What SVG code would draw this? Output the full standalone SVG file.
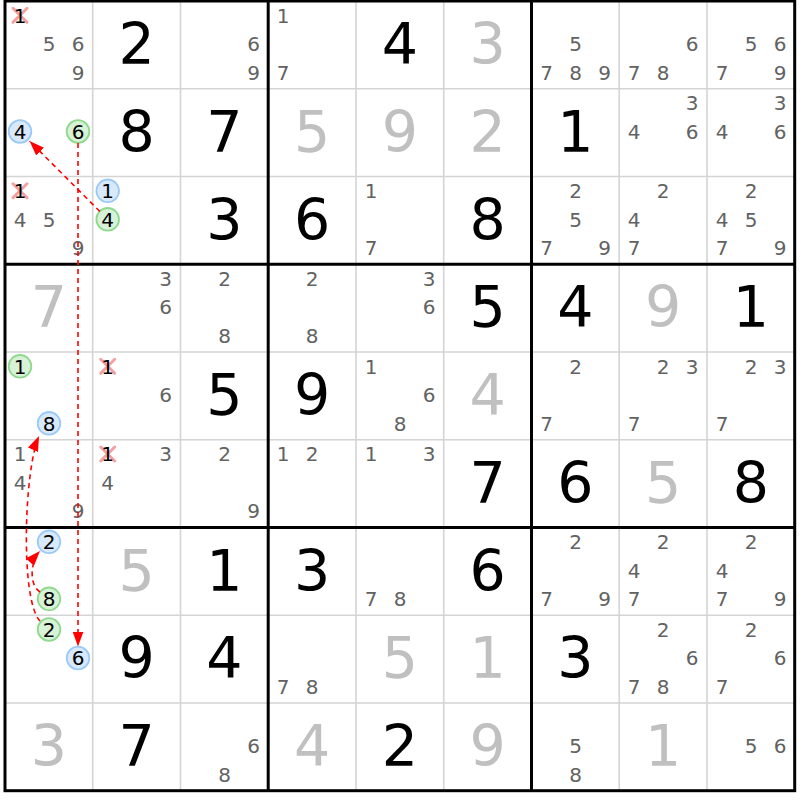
<svg xmlns="http://www.w3.org/2000/svg" width="800" height="800" viewBox="0 0 800 800">
<style>
.thin{stroke:#d4d4d4;stroke-width:1.6}
.thick{stroke:#000;stroke-width:3}
.b{font-family:"DejaVu Sans",sans-serif;font-size:57px;text-anchor:middle;fill:#000}
.gy{fill:#c0c0c0}
.c{font-family:"DejaVu Sans",sans-serif;font-size:20px;text-anchor:middle;fill:#626262}
.k{fill:#000}
.x{stroke:#f4a0a0;stroke-width:3;stroke-linecap:round}
.cb{fill:#d8e9fc;stroke:#9ccaf5;stroke-width:1.8}
.cg{fill:#d8f2d8;stroke:#8fd98f;stroke-width:1.8}
.ln{fill:none;stroke:#f00;stroke-width:1.6;stroke-dasharray:5,4}
</style>
<defs>
<marker id="ah" markerUnits="userSpaceOnUse" markerWidth="16" markerHeight="11" refX="15" refY="5.5" orient="auto">
<path d="M0,0 L15,5.5 L0,11 z" fill="#f00"/>
</marker>
</defs>
<rect x="0" y="0" width="800" height="800" fill="#fff"/>
<g id="grid">
<path class="thin" d="M92.7,1V790.7M180.5,1V790.7M356,1V790.7M443.7,1V790.7M619.2,1V790.7M707,1V790.7M5,88.7H794.7M5,176.5H794.7M5,352H794.7M5,439.7H794.7M5,615.2H794.7M5,703H794.7"/>
<path class="thick" d="M268.2,1V790.7M531.5,1V790.7M5,264.2H794.7M5,527.5H794.7"/>
<rect class="thick" x="5" y="1" width="789.7" height="789.7" fill="none"/>
</g>
<g id="r1c1"><path class="x" d="M13,8.3L27,22.3M27,8.3L13,22.3"/><text class="c k" x="20" y="22.5">1</text><text class="c" x="49" y="51">5</text><text class="c" x="78" y="51">6</text><text class="c" x="78" y="79.5">9</text></g>
<g id="r1c2"><text class="b" x="136.7" y="64">2</text></g>
<g id="r1c3"><text class="c" x="253.5" y="51">6</text><text class="c" x="253.5" y="79.5">9</text></g>
<g id="r1c4"><text class="c" x="283.2" y="22.5">1</text><text class="c" x="283.2" y="79.5">7</text></g>
<g id="r1c5"><text class="b" x="400" y="64">4</text></g>
<g id="r1c6"><text class="b gy" x="487.7" y="64">3</text></g>
<g id="r1c7"><text class="c" x="575.5" y="51">5</text><text class="c" x="546.5" y="79.5">7</text><text class="c" x="575.5" y="79.5">8</text><text class="c" x="604.5" y="79.5">9</text></g>
<g id="r1c8"><text class="c" x="692.2" y="51">6</text><text class="c" x="634.2" y="79.5">7</text><text class="c" x="663.2" y="79.5">8</text></g>
<g id="r1c9"><text class="c" x="751" y="51">5</text><text class="c" x="780" y="51">6</text><text class="c" x="722" y="79.5">7</text><text class="c" x="780" y="79.5">9</text></g>

<g id="r2c1"><circle class="cb" cx="20" cy="131.5" r="11.3"/><text class="c k" x="20" y="138.7">4</text><circle class="cg" cx="78" cy="131.5" r="11.3"/><text class="c k" x="78" y="138.7">6</text></g>
<g id="r2c2"><text class="b" x="136.7" y="151.7">8</text></g>
<g id="r2c3"><text class="b" x="224.5" y="151.7">7</text></g>
<g id="r2c4"><text class="b gy" x="312.2" y="151.7">5</text></g>
<g id="r2c5"><text class="b gy" x="400" y="151.7">9</text></g>
<g id="r2c6"><text class="b gy" x="487.7" y="151.7">2</text></g>
<g id="r2c7"><text class="b" x="575.5" y="151.7">1</text></g>
<g id="r2c8"><text class="c" x="692.2" y="110.2">3</text><text class="c" x="634.2" y="138.7">4</text><text class="c" x="692.2" y="138.7">6</text></g>
<g id="r2c9"><text class="c" x="780" y="110.2">3</text><text class="c" x="722" y="138.7">4</text><text class="c" x="780" y="138.7">6</text></g>

<g id="r3c1"><path class="x" d="M13,183.8L27,197.8M27,183.8L13,197.8"/><text class="c k" x="20" y="198">1</text><text class="c" x="20" y="226.5">4</text><text class="c" x="49" y="226.5">5</text><text class="c" x="78" y="255">9</text></g>
<g id="r3c2"><circle class="cb" cx="107.7" cy="190.8" r="11.3"/><text class="c k" x="107.7" y="198">1</text><circle class="cg" cx="107.7" cy="219.3" r="11.3"/><text class="c k" x="107.7" y="226.5">4</text></g>
<g id="r3c3"><text class="b" x="224.5" y="239.5">3</text></g>
<g id="r3c4"><text class="b" x="312.2" y="239.5">6</text></g>
<g id="r3c5"><text class="c" x="371" y="198">1</text><text class="c" x="371" y="255">7</text></g>
<g id="r3c6"><text class="b" x="487.7" y="239.5">8</text></g>
<g id="r3c7"><text class="c" x="575.5" y="198">2</text><text class="c" x="575.5" y="226.5">5</text><text class="c" x="546.5" y="255">7</text><text class="c" x="604.5" y="255">9</text></g>
<g id="r3c8"><text class="c" x="663.2" y="198">2</text><text class="c" x="634.2" y="226.5">4</text><text class="c" x="634.2" y="255">7</text></g>
<g id="r3c9"><text class="c" x="751" y="198">2</text><text class="c" x="722" y="226.5">4</text><text class="c" x="751" y="226.5">5</text><text class="c" x="722" y="255">7</text><text class="c" x="780" y="255">9</text></g>

<g id="r4c1"><text class="b gy" x="49" y="327.2">7</text></g>
<g id="r4c2"><text class="c" x="165.7" y="285.7">3</text><text class="c" x="165.7" y="314.2">6</text></g>
<g id="r4c3"><text class="c" x="224.5" y="285.7">2</text><text class="c" x="224.5" y="342.7">8</text></g>
<g id="r4c4"><text class="c" x="312.2" y="285.7">2</text><text class="c" x="312.2" y="342.7">8</text></g>
<g id="r4c5"><text class="c" x="429" y="285.7">3</text><text class="c" x="429" y="314.2">6</text></g>
<g id="r4c6"><text class="b" x="487.7" y="327.2">5</text></g>
<g id="r4c7"><text class="b" x="575.5" y="327.2">4</text></g>
<g id="r4c8"><text class="b gy" x="663.2" y="327.2">9</text></g>
<g id="r4c9"><text class="b" x="751" y="327.2">1</text></g>

<g id="r5c1"><circle class="cg" cx="20" cy="366.3" r="11.3"/><text class="c k" x="20" y="373.5">1</text><circle class="cb" cx="49" cy="423.3" r="11.3"/><text class="c k" x="49" y="430.5">8</text></g>
<g id="r5c2"><path class="x" d="M100.7,359.3L114.7,373.3M114.7,359.3L100.7,373.3"/><text class="c k" x="107.7" y="373.5">1</text><text class="c" x="165.7" y="402">6</text></g>
<g id="r5c3"><text class="b" x="224.5" y="415">5</text></g>
<g id="r5c4"><text class="b" x="312.2" y="415">9</text></g>
<g id="r5c5"><text class="c" x="371" y="373.5">1</text><text class="c" x="429" y="402">6</text><text class="c" x="400" y="430.5">8</text></g>
<g id="r5c6"><text class="b gy" x="487.7" y="415">4</text></g>
<g id="r5c7"><text class="c" x="575.5" y="373.5">2</text><text class="c" x="546.5" y="430.5">7</text></g>
<g id="r5c8"><text class="c" x="663.2" y="373.5">2</text><text class="c" x="692.2" y="373.5">3</text><text class="c" x="634.2" y="430.5">7</text></g>
<g id="r5c9"><text class="c" x="751" y="373.5">2</text><text class="c" x="780" y="373.5">3</text><text class="c" x="722" y="430.5">7</text></g>

<g id="r6c1"><text class="c" x="20" y="461.2">1</text><text class="c" x="20" y="489.7">4</text><text class="c" x="78" y="518.2">9</text></g>
<g id="r6c2"><path class="x" d="M100.7,447L114.7,461M114.7,447L100.7,461"/><text class="c k" x="107.7" y="461.2">1</text><text class="c" x="165.7" y="461.2">3</text><text class="c" x="107.7" y="489.7">4</text></g>
<g id="r6c3"><text class="c" x="224.5" y="461.2">2</text><text class="c" x="253.5" y="518.2">9</text></g>
<g id="r6c4"><text class="c" x="283.2" y="461.2">1</text><text class="c" x="312.2" y="461.2">2</text></g>
<g id="r6c5"><text class="c" x="371" y="461.2">1</text><text class="c" x="429" y="461.2">3</text></g>
<g id="r6c6"><text class="b" x="487.7" y="502.7">7</text></g>
<g id="r6c7"><text class="b" x="575.5" y="502.7">6</text></g>
<g id="r6c8"><text class="b gy" x="663.2" y="502.7">5</text></g>
<g id="r6c9"><text class="b" x="751" y="502.7">8</text></g>

<g id="r7c1"><circle class="cb" cx="49" cy="541.8" r="11.3"/><text class="c k" x="49" y="549">2</text><circle class="cg" cx="49" cy="598.8" r="11.3"/><text class="c k" x="49" y="606">8</text></g>
<g id="r7c2"><text class="b gy" x="136.7" y="590.5">5</text></g>
<g id="r7c3"><text class="b" x="224.5" y="590.5">1</text></g>
<g id="r7c4"><text class="b" x="312.2" y="590.5">3</text></g>
<g id="r7c5"><text class="c" x="371" y="606">7</text><text class="c" x="400" y="606">8</text></g>
<g id="r7c6"><text class="b" x="487.7" y="590.5">6</text></g>
<g id="r7c7"><text class="c" x="575.5" y="549">2</text><text class="c" x="546.5" y="606">7</text><text class="c" x="604.5" y="606">9</text></g>
<g id="r7c8"><text class="c" x="663.2" y="549">2</text><text class="c" x="634.2" y="577.5">4</text><text class="c" x="634.2" y="606">7</text></g>
<g id="r7c9"><text class="c" x="751" y="549">2</text><text class="c" x="722" y="577.5">4</text><text class="c" x="722" y="606">7</text><text class="c" x="780" y="606">9</text></g>

<g id="r8c1"><circle class="cg" cx="49" cy="629.5" r="11.3"/><text class="c k" x="49" y="636.7">2</text><circle class="cb" cx="78" cy="658" r="11.3"/><text class="c k" x="78" y="665.2">6</text></g>
<g id="r8c2"><text class="b" x="136.7" y="678.2">9</text></g>
<g id="r8c3"><text class="b" x="224.5" y="678.2">4</text></g>
<g id="r8c4"><text class="c" x="283.2" y="693.7">7</text><text class="c" x="312.2" y="693.7">8</text></g>
<g id="r8c5"><text class="b gy" x="400" y="678.2">5</text></g>
<g id="r8c6"><text class="b gy" x="487.7" y="678.2">1</text></g>
<g id="r8c7"><text class="b" x="575.5" y="678.2">3</text></g>
<g id="r8c8"><text class="c" x="663.2" y="636.7">2</text><text class="c" x="692.2" y="665.2">6</text><text class="c" x="634.2" y="693.7">7</text><text class="c" x="663.2" y="693.7">8</text></g>
<g id="r8c9"><text class="c" x="751" y="636.7">2</text><text class="c" x="780" y="665.2">6</text><text class="c" x="722" y="693.7">7</text></g>

<g id="r9c1"><text class="b gy" x="49" y="766">3</text></g>
<g id="r9c2"><text class="b" x="136.7" y="766">7</text></g>
<g id="r9c3"><text class="c" x="253.5" y="753">6</text><text class="c" x="224.5" y="781.5">8</text></g>
<g id="r9c4"><text class="b gy" x="312.2" y="766">4</text></g>
<g id="r9c5"><text class="b" x="400" y="766">2</text></g>
<g id="r9c6"><text class="b gy" x="487.7" y="766">9</text></g>
<g id="r9c7"><text class="c" x="575.5" y="753">5</text><text class="c" x="575.5" y="781.5">8</text></g>
<g id="r9c8"><text class="b gy" x="663.2" y="766">1</text></g>
<g id="r9c9"><text class="c" x="751" y="753">5</text><text class="c" x="780" y="753">6</text></g>

<g id="links">
<path class="ln" d="M99.9,211.5L29.5,141" marker-end="url(#ah)"/>
<path class="ln" d="M78,143V646.5" marker-end="url(#ah)"/>
<path class="ln" d="M40,592C29,585 30,562 40,551" marker-end="url(#ah)"/>
<path class="ln" d="M40,621C20,600 24,470 39,436" marker-end="url(#ah)"/>
</g>
</svg>
